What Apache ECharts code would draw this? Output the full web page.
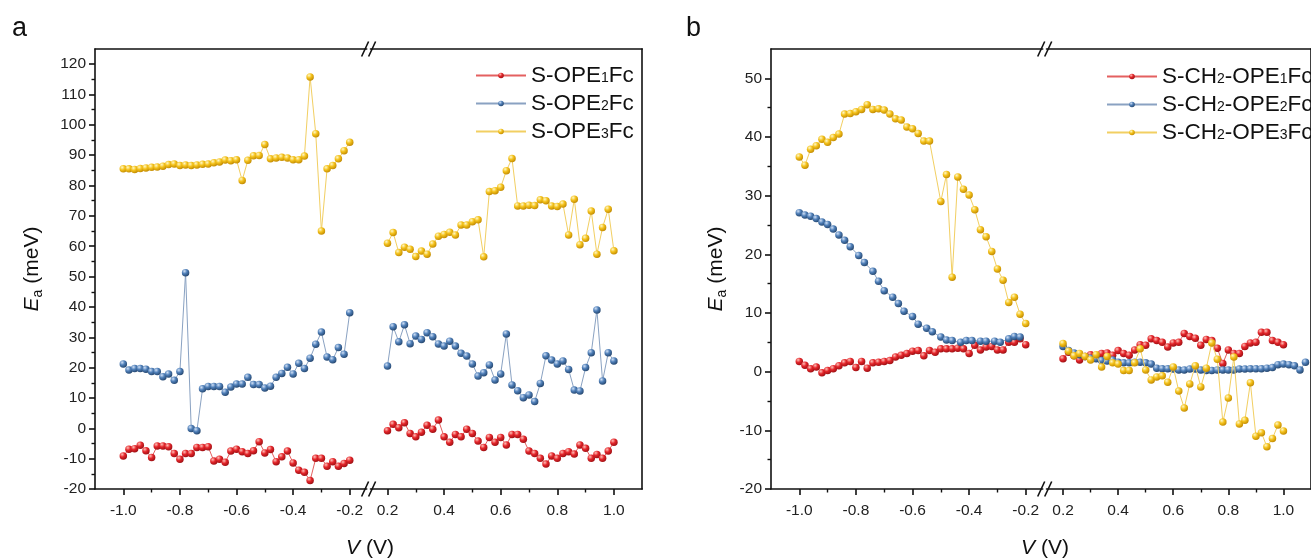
<!DOCTYPE html>
<html><head><meta charset="utf-8">
<script src="https://cdn.jsdelivr.net/npm/echarts@6/dist/echarts.min.js"></script>
<style>html,body{margin:0;padding:0;background:#fff}#c{width:1311px;height:560px}</style>
</head><body><div id="c"></div>
<script>
// ---------- data ----------
const vNeg = [-1.00,-0.98,-0.96,-0.94,-0.92,-0.90,-0.88,-0.86,-0.84,-0.82,-0.80,-0.78,-0.76,-0.74,-0.72,-0.70,-0.68,-0.66,-0.64,-0.62,-0.60,-0.58,-0.56,-0.54,-0.52,-0.50,-0.48,-0.46,-0.44,-0.42,-0.40,-0.38,-0.36,-0.34,-0.32,-0.30,-0.28,-0.26,-0.24,-0.22,-0.20];
const vPos = [0.20,0.22,0.24,0.26,0.28,0.30,0.32,0.34,0.36,0.38,0.40,0.42,0.44,0.46,0.48,0.50,0.52,0.54,0.56,0.58,0.60,0.62,0.64,0.66,0.68,0.70,0.72,0.74,0.76,0.78,0.80,0.82,0.84,0.86,0.88,0.90,0.92,0.94,0.96,0.98,1.00];
const vPosExt = [0.20,0.22,0.24,0.26,0.28,0.30,0.32,0.34,0.36,0.38,0.40,0.42,0.44,0.46,0.48,0.50,0.52,0.54,0.56,0.58,0.60,0.62,0.64,0.66,0.68,0.70,0.72,0.74,0.76,0.78,0.80,0.82,0.84,0.86,0.88,0.90,0.92,0.94,0.96,0.98,1.00,1.02,1.04,1.06,1.08];
const vBlueBL = [-1.00,-0.98,-0.96,-0.94,-0.92,-0.90,-0.88,-0.86,-0.84,-0.82,-0.79,-0.77,-0.74,-0.72,-0.70,-0.67,-0.65,-0.63,-0.60,-0.58,-0.55,-0.53,-0.50,-0.48,-0.46,-0.43,-0.41,-0.39,-0.36,-0.34,-0.31,-0.29,-0.26,-0.24,-0.22];

// panel a
const aRedL = [-9.1,-6.9,-6.7,-5.6,-7.4,-9.6,-5.8,-5.8,-6.1,-8.3,-10.2,-8.3,-8.3,-6.3,-6.3,-6.1,-10.8,-10.2,-11.2,-7.5,-6.9,-7.7,-8.3,-7.4,-4.4,-8.1,-7.0,-11.0,-9.4,-7.5,-11.4,-13.8,-14.5,-17.2,-9.9,-9.9,-12.5,-11.0,-12.5,-11.6,-10.5];
const aBlueL = [21.2,19.2,19.7,19.7,19.5,18.7,18.7,17.0,17.9,15.8,18.7,51.3,-0.1,-0.8,13.0,13.8,13.8,13.8,11.9,13.6,14.6,14.6,16.8,14.4,14.4,13.3,13.9,16.8,18.1,20.1,17.9,21.4,19.7,23.1,27.7,31.7,23.5,22.6,26.6,24.4,38.1];
const aYellowL = [85.5,85.5,85.3,85.6,85.8,86.0,86.1,86.4,86.9,87.1,86.6,86.8,86.6,86.8,87.0,87.1,87.5,87.8,88.4,88.2,88.5,81.7,88.3,89.8,89.9,93.5,88.8,89.1,89.3,89.1,88.5,88.5,89.7,115.8,97.1,65.0,85.5,86.6,88.8,91.5,94.3];
const aRedR = [-0.8,1.3,0.2,1.8,-1.7,-2.8,-1.3,1.0,-0.3,2.7,-2.8,-4.6,-2.0,-2.8,-0.3,-1.7,-4.2,-6.3,-3.0,-4.6,-3.0,-5.5,-2.0,-2.0,-3.6,-7.5,-8.3,-9.9,-11.8,-9.1,-9.9,-8.3,-7.7,-8.5,-5.5,-6.6,-9.9,-8.6,-9.9,-7.5,-4.6];
const aBlueR = [20.5,33.5,28.5,34.1,27.9,30.4,29.3,31.5,30.2,27.8,27.1,28.7,27.1,24.7,23.8,21.2,17.2,18.3,20.9,15.9,17.9,31.1,14.3,12.4,10.1,11.0,8.8,14.8,23.9,22.5,21.2,22.2,19.4,12.6,12.3,20.0,24.9,39.0,15.6,24.9,22.2];
const aYellowR = [61.0,64.5,57.9,59.7,59.0,56.6,58.4,57.4,60.7,63.3,63.9,64.6,63.7,67.0,67.0,68.1,68.7,56.5,78.0,78.3,79.4,84.9,88.9,73.3,73.3,73.5,73.4,75.3,75.0,73.3,73.1,73.9,63.7,75.5,60.5,62.6,71.6,57.4,66.2,72.2,58.5];

// panel b
const bRedL = [1.75,1.1,0.5,0.8,-0.2,0.2,0.5,1.0,1.5,1.75,0.7,1.75,0.6,1.5,1.6,1.75,1.9,2.5,2.8,3.1,3.5,3.6,2.7,3.6,3.3,3.9,3.9,3.9,4.0,3.9,3.1,4.5,3.7,4.2,4.3,3.7,3.7,5.0,5.0,5.6,4.6];
const bBlueL = [27.1,26.7,26.5,26.1,25.5,25.1,24.3,23.3,22.4,21.3,19.8,18.6,17.1,15.4,13.8,12.7,11.6,10.3,9.4,8.1,7.4,6.8,5.9,5.4,5.3,5.0,5.3,5.3,5.2,5.2,5.2,5.0,5.6,6.0,5.9];
const bYellowL = [36.6,35.2,37.9,38.5,39.6,39.1,39.9,40.5,43.9,44.0,44.3,44.7,45.5,44.7,44.8,44.6,43.9,43.1,42.9,41.7,41.4,40.6,39.3,39.3,null,29.0,33.6,16.1,33.2,31.1,30.1,27.6,24.2,23.0,20.5,17.5,15.6,11.8,12.7,9.8,8.2];
const bRedR = [2.2,3.3,2.7,2.0,2.6,2.9,2.5,3.1,3.2,2.8,3.6,3.1,2.8,3.7,4.6,4.5,5.6,5.3,5.0,4.2,4.9,5.0,6.5,6.0,5.7,4.5,5.5,5.3,4.0,1.4,3.7,3.1,3.1,4.3,4.9,5.0,6.7,6.7,5.3,5.0,4.6];
const bBlueR = [4.3,3.6,3.2,2.9,2.6,2.3,2.2,1.9,1.8,2.0,1.6,1.5,1.5,1.6,1.6,1.5,1.3,0.6,0.5,0.5,0.45,0.3,0.3,0.45,0.45,0.3,0.2,0.2,0.3,0.3,0.3,0.3,0.45,0.45,0.5,0.5,0.5,0.6,0.7,1.2,1.3,1.2,1.0,0.3,1.6];
const bYellowR = [4.8,3.5,2.7,3.1,2.6,2.0,2.9,0.8,2.6,1.5,1.3,0.2,0.2,1.5,3.9,0.3,-1.4,-0.9,-0.7,-1.8,0.8,-3.3,-6.2,-2.1,1.0,-2.6,0.6,4.9,2.1,-8.6,-4.5,2.5,-8.9,-8.3,-1.9,-11.0,-10.4,-12.8,-11.4,-9.1,-10.1];

// names and tick labels
const namesA = ['S-OPE1Fc','S-OPE2Fc','S-OPE3Fc'];
const namesB = ['S-CH2-OPE1Fc','S-CH2-OPE2Fc','S-CH2-OPE3Fc'];
const xMajorNeg = [-1.0,-0.8,-0.6,-0.4,-0.2];
const xMinorNeg = [-0.9,-0.7,-0.5,-0.3];
const xMajorPos = [0.2,0.4,0.6,0.8,1.0];
const xMinorPos = [0.3,0.5,0.7,0.9];
const yMajorA = [-20,-10,0,10,20,30,40,50,60,70,80,90,100,110,120];
const yMinorA = [-15,-5,5,15,25,35,45,55,65,75,85,95,105,115];
const yMajorB = [-20,-10,0,10,20,30,40,50];
const yMinorB = [-15,-5,5,15,25,35,45];

// ---------- chart ----------
const FONT = "'Liberation Sans', Arial, Helvetica, sans-serif";
const INK = '#111';
const chart = echarts.init(document.getElementById('c'), null, {renderer: 'canvas'});

function zip(xs, ys) { return xs.map((x, i) => [x, ys[i]]); }
function ball(c0, c1, c2) {
  return new echarts.graphic.RadialGradient(0.35, 0.3, 0.75, [
    {offset: 0, color: c0}, {offset: 0.45, color: c1}, {offset: 1, color: c2}]);
}
const STY = [
  {line: '#e46060', fill: ball('#ffc0b8', '#e4262b', '#9a0e12')},
  {line: '#8aa2c2', fill: ball('#d0e0f6', '#4f7fb8', '#23446c')},
  {line: '#f2cf62', fill: ball('#fff8c8', '#f4c21c', '#c08800')}
];

const grids = [
  {left: 95, top: 49, width: 271.7, height: 440},
  {left: 370.5, top: 49, width: 271.7, height: 440},
  {left: 771, top: 49, width: 271.7, height: 440},
  {left: 1046.5, top: 49, width: 271.7, height: 440}
];
const xRanges = [[-1.1, -0.14], [0.14, 1.1], [-1.1, -0.14], [0.14, 1.1]];

function tickAxis(base, values, len, w) {
  return Object.assign({}, base, {
    axisLine: {show: false, onZero: false},
    axisTick: {show: true, inside: false, length: len, customValues: values, lineStyle: {color: INK, width: w}},
    axisLabel: {show: false}, splitLine: {show: false}
  });
}

const xAxis = [];
const xMain = [];
grids.forEach((g, gi) => {
  const neg = gi % 2 === 0;
  const majors = neg ? xMajorNeg : xMajorPos;
  const minors = neg ? xMinorNeg : xMinorPos;
  const [mn, mx] = xRanges[gi];
  const base = {type: 'value', gridIndex: gi, min: mn, max: mx, position: 'bottom'};
  xMain.push(xAxis.length);
  xAxis.push(Object.assign({}, base, {
    axisLine: {show: true, onZero: false, lineStyle: {color: INK, width: 1.6}},
    axisTick: {show: false},
    axisLabel: {show: true, customValues: majors, formatter: v => v.toFixed(1),
      fontSize: 15.5, color: '#222', fontFamily: FONT, margin: 14},
    splitLine: {show: false}
  }));
  xAxis.push(tickAxis(base, majors, 6, 1.6));
  xAxis.push(tickAxis(base, minors, 3.5, 1.4));
  xAxis.push({
    type: 'value', gridIndex: gi, min: mn, max: mx, position: 'top',
    axisLine: {show: true, onZero: false, lineStyle: {color: INK, width: 1.6}},
    axisTick: {show: false}, axisLabel: {show: false}, splitLine: {show: false}
  });
});

const yName = {
  name: '{i|E}{s|a}{n| (meV)}', nameLocation: 'middle', nameRotate: 90,
  nameTextStyle: {fontFamily: FONT, color: '#111', rich: {
    i: {fontSize: 21, fontStyle: 'italic', fontFamily: FONT, lineHeight: 26, verticalAlign: 'middle'},
    s: {fontSize: 14, fontFamily: FONT, lineHeight: 14, verticalAlign: 'bottom'},
    n: {fontSize: 21, fontFamily: FONT, lineHeight: 26, verticalAlign: 'middle'}
  }}
};
const yAxis = [];
const yMain = [];
grids.forEach((g, gi) => {
  const isA = gi < 2;
  const mn = -20, mx = isA ? 125 : 55;
  const majors = isA ? yMajorA : yMajorB;
  const minors = isA ? yMinorA : yMinorB;
  if (gi % 2 === 0) {
    const base = {type: 'value', gridIndex: gi, min: mn, max: mx, position: 'left'};
    yMain.push(yAxis.length);
    yAxis.push(Object.assign({}, base, yName, {
      nameGap: isA ? 50 : 42,
      axisLine: {show: true, onZero: false, lineStyle: {color: INK, width: 1.6}},
      axisTick: {show: false},
      axisLabel: {show: true, customValues: majors, fontSize: 15.5, color: '#222', fontFamily: FONT, margin: 9},
      splitLine: {show: false}
    }));
    yAxis.push(tickAxis(base, majors, 6, 1.6));
    yAxis.push(tickAxis(base, minors, 3.5, 1.4));
  } else {
    yMain.push(yAxis.length);
    yAxis.push({
      type: 'value', gridIndex: gi, min: mn, max: mx, position: 'right',
      axisLine: {show: true, onZero: false, lineStyle: {color: INK, width: 1.6}},
      axisTick: {show: false}, axisLabel: {show: false}, splitLine: {show: false}
    });
  }
});

function mkSeries(name, gi, xs, ys, k) {
  return {
    type: 'line', name: name, xAxisIndex: xMain[gi], yAxisIndex: yMain[gi],
    data: zip(xs, ys), connectNulls: true,
    symbol: 'circle', symbolSize: 7.5, showSymbol: true,
    itemStyle: {color: STY[k].fill, borderWidth: 0},
    lineStyle: {color: STY[k].line, width: 1},
    emphasis: {disabled: true}, animation: false, z: 2 + k
  };
}
const series = [
  mkSeries(namesA[0], 0, vNeg, aRedL, 0),
  mkSeries(namesA[1], 0, vNeg, aBlueL, 1),
  mkSeries(namesA[2], 0, vNeg, aYellowL, 2),
  mkSeries(namesA[0], 1, vPos, aRedR, 0),
  mkSeries(namesA[1], 1, vPos, aBlueR, 1),
  mkSeries(namesA[2], 1, vPos, aYellowR, 2),
  mkSeries(namesB[0], 2, vNeg, bRedL, 0),
  mkSeries(namesB[1], 2, vBlueBL, bBlueL, 1),
  mkSeries(namesB[2], 2, vNeg, bYellowL, 2),
  mkSeries(namesB[0], 3, vPos, bRedR, 0),
  mkSeries(namesB[1], 3, vPosExt, bBlueR, 1),
  mkSeries(namesB[2], 3, vPos, bYellowR, 2)
];

function legendFmt(name) {
  // render digits in the formula as subscripts
  return name.replace(/(CH)(2)/, '$1{s|$2}').replace(/(OPE)(\d)/, '$1{s|$2}')
    .split(/(\{s\|\d\})/).map(p => p.startsWith('{s|') ? p : (p ? '{n|' + p + '}' : '')).join('');
}
const legRich = {
  n: {fontSize: 22.5, fontFamily: FONT, color: '#111', lineHeight: 24, verticalAlign: 'middle'},
  s: {fontSize: 14, fontFamily: FONT, color: '#111', lineHeight: 14, verticalAlign: 'bottom', padding: [0, 0, 2, 0]}
};
const legendBase = {
  orient: 'vertical', itemWidth: 50, itemHeight: 7, itemGap: 4.5,
  formatter: legendFmt, textStyle: {rich: legRich, fontFamily: FONT},
  selectedMode: false
};

function slash(cx, cy) {
  return [-3.5, 3.5].map(dx => ({
    type: 'line', silent: true, z: 100,
    shape: {x1: cx + dx - 3.5, y1: cy + 7.5, x2: cx + dx + 3.5, y2: cy - 7.5},
    style: {stroke: INK, lineWidth: 1.6}
  }));
}
const xNameRich = {
  i: {fontSize: 21, fontStyle: 'italic', fontFamily: FONT, fill: '#111'},
  n: {fontSize: 21, fontFamily: FONT, fill: '#111'}
};

const option = {
  backgroundColor: '#fff',
  animation: false,
  grid: grids,
  xAxis: xAxis,
  yAxis: yAxis,
  legend: [
    Object.assign({}, legendBase, {data: namesA, left: 470, top: 59}),
    Object.assign({}, legendBase, {data: namesB, left: 1101, top: 60})
  ],
  series: series,
  graphic: [
    {type: 'text', left: 12, top: 15, style: {text: 'a', fontSize: 27, fontFamily: FONT, fill: '#111'}},
    {type: 'text', left: 686, top: 15, style: {text: 'b', fontSize: 27, fontFamily: FONT, fill: '#111'}},
    {type: 'text', x: 370, y: 538, style: {text: '{i|V}{n| (V)}', rich: xNameRich, align: 'center', fontSize: 21, fontFamily: FONT}},
    {type: 'text', x: 1045, y: 538, style: {text: '{i|V}{n| (V)}', rich: xNameRich, align: 'center', fontSize: 21, fontFamily: FONT}}
  ].concat(slash(368.6, 489), slash(368.6, 49), slash(1044.7, 489), slash(1044.7, 49))
};
chart.setOption(option);
</script></body></html>
